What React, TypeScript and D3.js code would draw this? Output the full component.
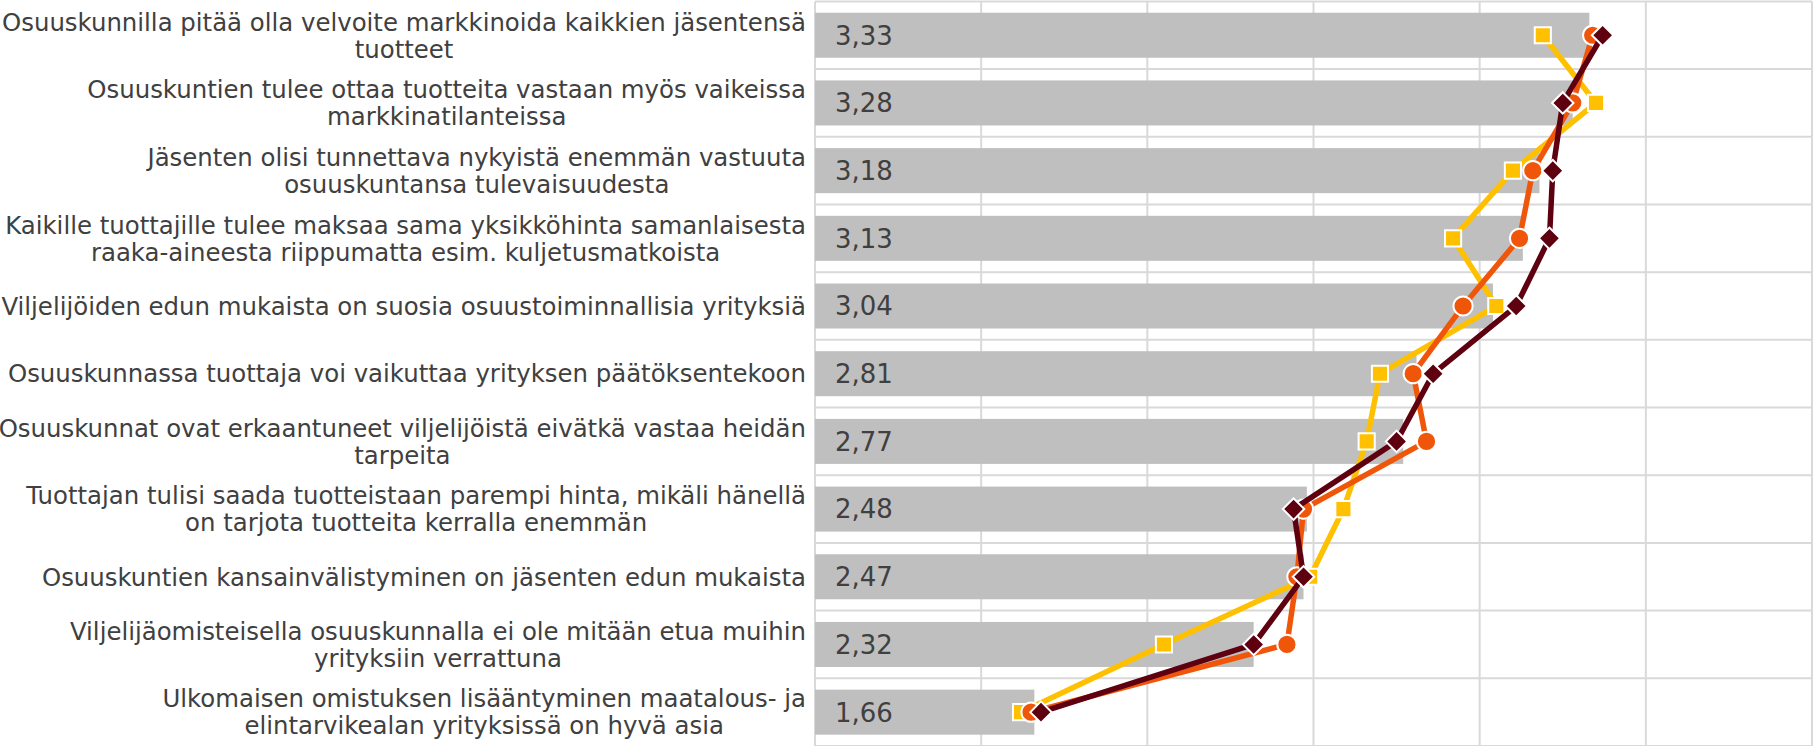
import React, { useEffect, useRef } from "react";
import * as d3 from "d3";

const categories: string[][] = [
  ["Osuuskunnilla pitää olla velvoite markkinoida kaikkien jäsentensä", "tuotteet"],
  ["Osuuskuntien tulee ottaa tuotteita vastaan myös vaikeissa", "markkinatilanteissa"],
  ["Jäsenten olisi tunnettava nykyistä enemmän vastuuta", "osuuskuntansa tulevaisuudesta"],
  ["Kaikille tuottajille tulee maksaa sama yksikköhinta samanlaisesta", "raaka-aineesta riippumatta esim. kuljetusmatkoista"],
  ["Viljelijöiden edun mukaista on suosia osuustoiminnallisia yrityksiä"],
  ["Osuuskunnassa tuottaja voi vaikuttaa yrityksen päätöksentekoon"],
  ["Osuuskunnat ovat erkaantuneet viljelijöistä eivätkä vastaa heidän", "tarpeita"],
  ["Tuottajan tulisi saada tuotteistaan parempi hinta, mikäli hänellä", "on tarjota tuotteita kerralla enemmän"],
  ["Osuuskuntien kansainvälistyminen on jäsenten edun mukaista"],
  ["Viljelijäomisteisella osuuskunnalla ei ole mitään etua muihin", "yrityksiin verrattuna"],
  ["Ulkomaisen omistuksen lisääntyminen maatalous- ja", "elintarvikealan yrityksissä on hyvä asia"],
];

const barValues: number[] = [3.33, 3.28, 3.18, 3.13, 3.04, 2.81, 2.77, 2.48, 2.47, 2.32, 1.66];
const seriesYellow: number[] = [3.19, 3.35, 3.10, 2.92, 3.05, 2.70, 2.66, 2.59, 2.49, 2.05, 1.62];
const seriesOrange: number[] = [3.34, 3.28, 3.16, 3.12, 2.95, 2.80, 2.84, 2.47, 2.45, 2.42, 1.65];
const seriesDark: number[] = [3.37, 3.25, 3.22, 3.21, 3.11, 2.86, 2.75, 2.44, 2.47, 2.32, 1.68];

const xDomain: [number, number] = [1, 4];
const xTicks: number[] = [1, 1.5, 2, 2.5, 3, 3.5, 4];

const W = 1813;
const H = 746;
const FONT = "'DejaVu Sans', Verdana, sans-serif";

export default function App() {
  const ref = useRef<SVGSVGElement | null>(null);

  useEffect(() => {
    document.body.style.margin = "0";
    const svg = d3.select(ref.current);
    svg.selectAll("*").remove();

    const x = d3.scaleLinear().domain(xDomain).range([815, 1812]);
    const y = d3
      .scaleBand<number>()
      .domain(d3.range(categories.length))
      .range([1.4, 746])
      .paddingInner(0.335)
      .paddingOuter(0.1675);
    const step = y.step();
    const y0 = y.range()[0];
    const cy = (i: number) => (y(i) as number) + y.bandwidth() / 2;

    const grid = svg.append("g");
    grid
      .selectAll("line.v")
      .data(xTicks)
      .join("line")
      .attr("x1", (d) => x(d))
      .attr("x2", (d) => x(d))
      .attr("y1", y0)
      .attr("y2", H)
      .attr("stroke", "#d9d9d9")
      .attr("stroke-width", 2);
    grid
      .selectAll("line.h")
      .data(d3.range(categories.length + 1))
      .join("line")
      .attr("x1", x(xDomain[0]))
      .attr("x2", x(xDomain[1]))
      .attr("y1", (k) => y0 + k * step)
      .attr("y2", (k) => y0 + k * step)
      .attr("stroke", "#d9d9d9")
      .attr("stroke-width", 2);

    svg
      .append("g")
      .selectAll("rect")
      .data(barValues)
      .join("rect")
      .attr("x", x(xDomain[0]))
      .attr("y", (_, i) => y(i) as number)
      .attr("width", (d) => x(d) - x(xDomain[0]))
      .attr("height", y.bandwidth())
      .attr("fill", "#bfbfbf");

    const fmt = d3.format(".2f");
    svg
      .append("g")
      .selectAll("text")
      .data(barValues)
      .join("text")
      .attr("x", x(xDomain[0]) + 20)
      .attr("y", (_, i) => cy(i))
      .attr("dy", "0.36em")
      .attr("font-family", FONT)
      .attr("font-size", 26)
      .attr("fill", "#404040")
      .text((d) => fmt(d).replace(".", ","));

    // category labels
    const labelRight = 806;
    const lineH = 27;
    const lab = svg.append("g");
    categories.forEach((lines, i) => {
      const g = lab.append("g");
      const texts = lines.map((t, j) =>
        g
          .append("text")
          .attr("font-family", FONT)
          .attr("font-size", 24.4)
          .attr("fill", "#404040")
          .attr("text-anchor", "middle")
          .attr("y", cy(i) + (j - (lines.length - 1) / 2) * lineH)
          .attr("dy", "0.36em")
          .text(t)
      );
      const maxW = d3.max(texts, (t) => (t.node() as SVGTextElement).getComputedTextLength()) || 0;
      const center = labelRight - maxW / 2;
      texts.forEach((t) => t.attr("x", center));
    });

    const series = [
      { values: seriesYellow, color: "#ffc000", shape: "square" },
      { values: seriesOrange, color: "#f0560a", shape: "circle" },
      { values: seriesDark, color: "#5e0010", shape: "diamond" },
    ];
    const line = d3
      .line<number>()
      .x((d) => x(d))
      .y((_, i) => cy(i));

    series.forEach((s) => {
      const g = svg.append("g");
      g.append("path")
        .attr("d", line(s.values) as string)
        .attr("fill", "none")
        .attr("stroke", s.color)
        .attr("stroke-width", 5.5)
        .attr("stroke-linejoin", "round");
      let sym: d3.SymbolType = d3.symbolSquare;
      let size = 260;
      if (s.shape === "circle") {
        sym = d3.symbolCircle;
        size = 290;
      } else if (s.shape === "diamond") {
        sym = d3.symbolSquare;
        size = 230;
      }
      const symbol = d3.symbol().type(sym).size(size);
      g.selectAll("path.m")
        .data(s.values)
        .join("path")
        .attr("d", symbol() as string)
        .attr(
          "transform",
          (d, i) => `translate(${x(d)},${cy(i)})${s.shape === "diamond" ? " rotate(45)" : ""}`
        )
        .attr("fill", s.color)
        .attr("stroke", "#ffffff")
        .attr("stroke-width", 2);
    });
  }, []);

  return (
    <svg
      ref={ref}
      width={W}
      height={H}
      style={{ position: "absolute", left: 0, top: 0, background: "#ffffff" }}
    />
  );
}
